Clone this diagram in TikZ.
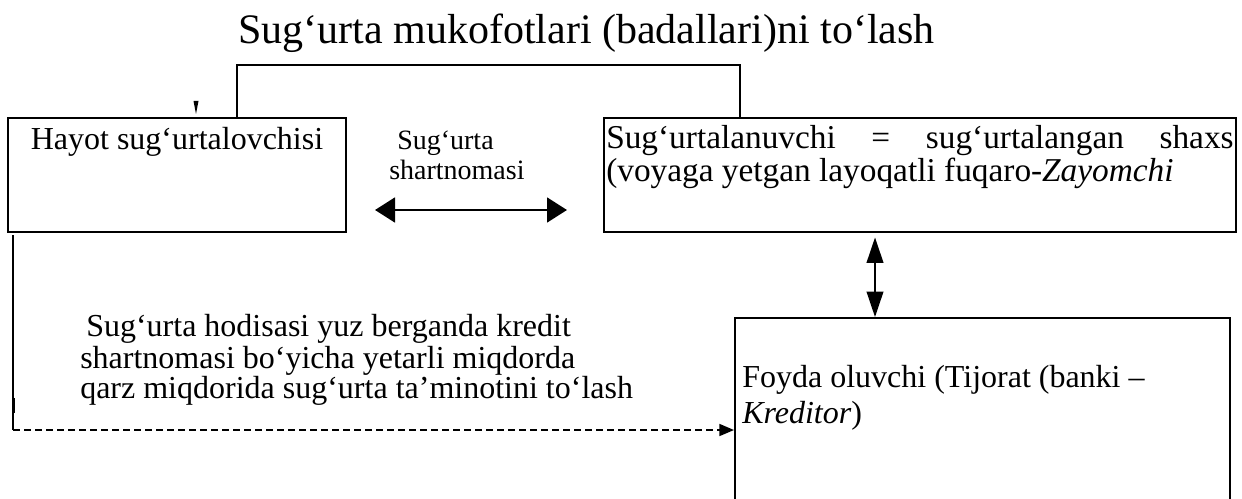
\documentclass[tikz,border=0pt]{standalone}
\usepackage{fontspec}
\setmainfont{Liberation Serif}
\usetikzlibrary{arrows.meta}
\tikzset{
  bigtip/.tip={Triangle[length=15pt,width=18.5pt]},
  thintip/.tip={Triangle[length=19pt,width=12.5pt]},
  dashtip/.tip={Triangle[length=11pt,width=9pt]}
}
\begin{document}
\begin{tikzpicture}[x=0.75pt,y=-0.75pt,
  box/.style={draw, inner sep=0pt, minimum height=85.5pt},
  bodytext/.style={inner sep=0pt, font=\fontsize{24}{29}\selectfont},
  boxbtext/.style={inner sep=0pt, font=\fontsize{25}{30}\selectfont},
  labeltext/.style={inner sep=0pt, font=\fontsize{21}{25}\selectfont},
  titletext/.style={inner sep=0pt, font=\fontsize{31.5}{38}\selectfont},
  thickline/.style={line width=2.2pt}
]
\useasboundingbox (0,0) rectangle (1242,499);
\clip (0,0) rectangle (1242,499);

% title
\node[titletext, anchor=base west] (title) at (238,44) {Sug‘urta mukofotlari (badallari)ni to‘lash};

% boxes
\node[box, thickline, minimum width=253.5pt] (boxA) at (177,175) {};
\node[box, thickline, minimum width=474pt] (boxB) at (920,175) {};
\node[draw, inner sep=0pt, line width=1.5pt, minimum width=371.25pt, minimum height=180pt] (boxC) at (982.5,438) {};

% box texts
\node[bodytext, anchor=base] (tA) at (177,150) {Hayot sug‘urtalovchisi};
\node[boxbtext, anchor=base west] (tB1) at (606,149) {\makebox[470.5pt][l]{Sug‘urtalanuvchi\hfill=\hfill sug‘urtalangan\hfill shaxs}};
\node[boxbtext, anchor=base west] (tB2) at (606,181) {(voyaga yetgan layoqatli fuqaro-\textit{Zayomchi}};
\node[bodytext, anchor=base west] (tC1) at (742,387) {Foyda oluvchi (Tijorat (banki –};
\node[bodytext, anchor=base west] (tC2) at (742,423) {\textit{Kreditor})};

% contract label and double arrow
\node[labeltext, anchor=base west] (lab1) at (397,150) {Sug‘urta};
\node[labeltext, anchor=base west] (lab2) at (389,180) {shartnomasi};
\coordinate (hl) at (375,210);
\coordinate (hr) at (567,210);
\draw[thickline, {bigtip}-{bigtip}] (hl) -- (hr);

% top connector (premium payment)
\coordinate (tl) at (237,65);
\coordinate (tr) at (740,65);
\draw[thickline] (boxA.north -| tl) -- (tl) -- (tr) -- (boxB.north -| tr);
\fill (193.5,101) -- (198.5,101) -- (196,114) -- cycle;

% vertical double arrow between insured and beneficiary
\coordinate (vx) at (875,0);
\draw[line width=1.2pt, {thintip}-{thintip}] ([yshift=-3pt]boxB.south -| vx) -- (boxC.north -| vx);

% payment text
\node[bodytext, anchor=base west] (p1) at (86,336) {Sug‘urta hodisasi yuz berganda kredit};
\node[bodytext, anchor=base west] (p2) at (80,368) {shartnomasi bo‘yicha yetarli miqdorda};
\node[bodytext, anchor=base west] (p3) at (80,398) {qarz miqdorida sug‘urta ta’minotini to‘lash};

% dashed payment connector
\coordinate (ds) at (13,235);
\coordinate (dc) at (13,430);
\draw[line width=1.5pt] (ds) -- (dc);
\draw[line width=1.2pt] (14.5,398) -- (14.5,413);
\draw[line width=1.3pt, dash pattern=on 5.25pt off 3pt, -{dashtip}] (dc) -- (boxC.west |- dc);
\end{tikzpicture}
\end{document}
